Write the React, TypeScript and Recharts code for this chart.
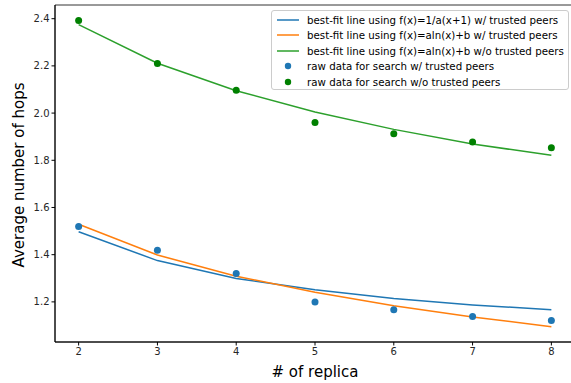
import React from "react";
import {
  ComposedChart,
  Line,
  Scatter,
  XAxis,
  YAxis,
  ReferenceArea,
} from "recharts";

const replicas = [2, 3, 4, 5, 6, 7, 8];
const fitInvTrusted = [1.497, 1.375, 1.299, 1.251, 1.214, 1.187, 1.167];
const fitLogTrusted = [1.529, 1.399, 1.309, 1.241, 1.184, 1.136, 1.095];
const fitLogUntrusted = [2.375, 2.211, 2.095, 2.005, 1.931, 1.869, 1.821];
const rawTrusted = [1.519, 1.419, 1.32, 1.2, 1.167, 1.138, 1.121];
const rawUntrusted = [2.392, 2.21, 2.097, 1.96, 1.912, 1.878, 1.853];
const yTicks = [1.2, 1.4, 1.6, 1.8, 2.0, 2.2, 2.4];

const chartData = replicas.map((x, i) => ({
  x,
  fitInv: fitInvTrusted[i],
  fitLog: fitLogTrusted[i],
  fitLogNo: fitLogUntrusted[i],
  rawW: rawTrusted[i],
  rawWo: rawUntrusted[i],
}));

const legendItems = [
  { kind: "line", color: "#1f77b4", label: "best-fit line using f(x)=1/a(x+1) w/ trusted peers" },
  { kind: "line", color: "#ff7f0e", label: "best-fit line using f(x)=aln(x)+b w/ trusted peers" },
  { kind: "line", color: "#2ca02c", label: "best-fit line using f(x)=aln(x)+b w/o trusted peers" },
  { kind: "dot", color: "#1f77b4", label: "raw data for search w/ trusted peers" },
  { kind: "dot", color: "#008000", label: "raw data for search w/o trusted peers" },
];

const font = "'DejaVu Sans', sans-serif";

const LegendBox = () => (
  <div
    style={{
      position: "absolute",
      left: 271,
      top: 10,
      width: 298,
      height: 80,
      boxSizing: "border-box",
      border: "1px solid #cccccc",
      borderRadius: 3,
      background: "rgba(255,255,255,0.8)",
      padding: "1px 4px 1px 4px",
      fontFamily: font,
      fontSize: 10.25,
      color: "#000",
    }}
  >
    {legendItems.map((it) => (
      <div key={it.label} style={{ display: "flex", alignItems: "center", height: 15.5 }}>
        <svg width={30} height={10} style={{ marginRight: 1, flexShrink: 0 }}>
          {it.kind === "line" ? (
            <line x1={1} y1={5} x2={23} y2={5} stroke={it.color} strokeWidth={1.5} />
          ) : (
            <circle cx={12} cy={5} r={3.2} fill={it.color} />
          )}
        </svg>
        <span style={{ whiteSpace: "nowrap" }}>{it.label}</span>
      </div>
    ))}
  </div>
);

const YLabel = () => (
  <text
    x={0}
    y={0}
    transform="translate(24,175) rotate(-90)"
    textAnchor="middle"
    fill="#000"
    fontSize={15}
    fontFamily={font}
  >
    Average number of hops
  </text>
);

const dot = (color: string) => (p: { cx?: number; cy?: number }) =>
  <circle cx={p.cx} cy={p.cy} r={3.5} fill={color} />;

export default function App() {
  return (
    <div style={{ position: "absolute", left: 0, top: 0, width: 571, height: 383, overflow: "hidden", background: "#fff" }}>
      <ComposedChart
        width={580}
        height={383}
        data={chartData}
        margin={{ top: 5, right: 5, left: 0, bottom: 0 }}
      >
        <ReferenceArea
          x1={1.7}
          x2={8.3}
          y1={1.03}
          y2={2.458}
          fill="none"
          stroke="#000"
          strokeWidth={0.8}
          ifOverflow="visible"
        />
        <XAxis
          dataKey="x"
          type="number"
          domain={[1.7, 8.3]}
          ticks={replicas}
          height={41}
          stroke="#000"
          tickSize={3.5}
          tick={{ fill: "#262626", fontSize: 10, fontFamily: font }}
          label={{ value: "# of replica", position: "insideBottom", offset: 6, fill: "#000", fontSize: 15, fontFamily: font }}
        />
        <YAxis
          type="number"
          domain={[1.03, 2.458]}
          ticks={yTicks}
          width={55}
          stroke="#000"
          tickSize={3.5}
          tickFormatter={(v: number) => v.toFixed(1)}
          tick={{ fill: "#262626", fontSize: 10, fontFamily: font }}
          label={<YLabel />}
        />
        <Line dataKey="fitInv" type="linear" stroke="#1f77b4" strokeWidth={1.5} dot={false} isAnimationActive={false} />
        <Line dataKey="fitLog" type="linear" stroke="#ff7f0e" strokeWidth={1.5} dot={false} isAnimationActive={false} />
        <Line dataKey="fitLogNo" type="linear" stroke="#2ca02c" strokeWidth={1.5} dot={false} isAnimationActive={false} />
        <Scatter dataKey="rawW" fill="#1f77b4" shape={dot("#1f77b4")} isAnimationActive={false} />
        <Scatter dataKey="rawWo" fill="#008000" shape={dot("#008000")} isAnimationActive={false} />
      </ComposedChart>
      <LegendBox />
    </div>
  );
}
